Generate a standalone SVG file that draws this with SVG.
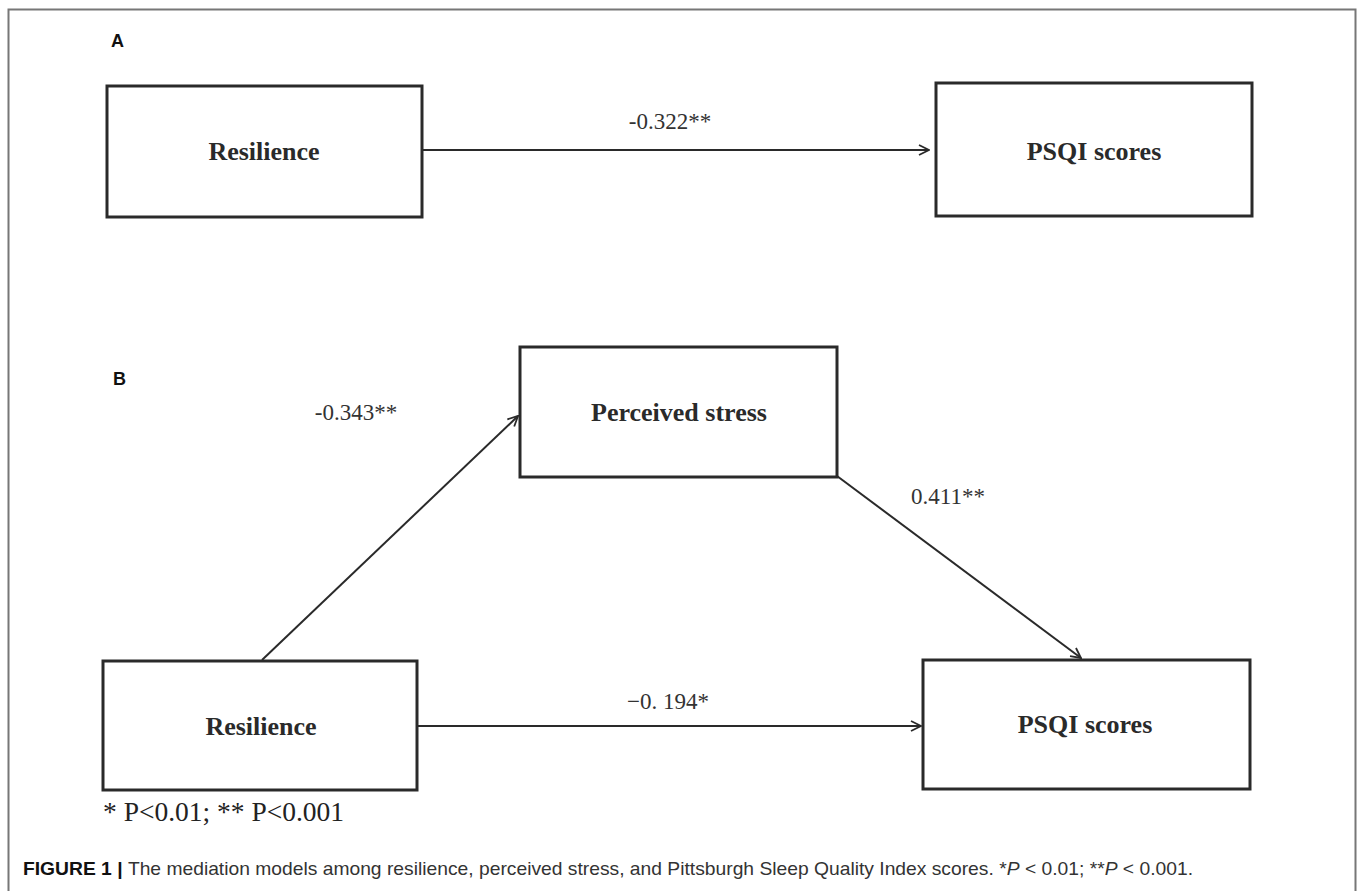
<svg xmlns="http://www.w3.org/2000/svg" width="1358" height="891" viewBox="0 0 1358 891">
<style>
.box{fill:#fff;stroke:#2a2a2a;stroke-width:3}
.lbl{font-family:"Liberation Serif",serif;font-weight:bold;font-size:26px;fill:#2a2a2a;text-anchor:middle}
.coef{font-family:"Liberation Serif",serif;font-size:23px;fill:#333;text-anchor:middle}
.edge{stroke:#2a2a2a;stroke-width:2;fill:none}
.panel{font-family:"Liberation Sans",sans-serif;font-weight:bold;font-size:18px;fill:#111}
</style>
<defs>
<marker id="arr" viewBox="0 0 12 12" refX="11" refY="6" markerWidth="12" markerHeight="12" markerUnits="userSpaceOnUse" orient="auto">
<path d="M1,1 L11,6 L1,11" fill="none" stroke="#2a2a2a" stroke-width="1.8"/>
</marker>
</defs>
<rect width="1358" height="891" fill="#fff"/>
<path d="M8.5,900 V9.5 H1355.5 V900" fill="none" stroke="#777" stroke-width="2"/>
<text class="panel" x="111" y="47">A</text>
<text class="panel" x="113" y="385">B</text>
<g id="a-resilience"><rect class="box" x="107" y="86" width="315" height="131"/><text class="lbl" x="264" y="160">Resilience</text></g>
<g id="a-psqi"><rect class="box" x="936" y="83" width="316" height="133"/><text class="lbl" x="1094" y="160">PSQI scores</text></g>
<g id="b-stress"><rect class="box" x="520" y="347" width="317" height="130"/><text class="lbl" x="679" y="421">Perceived stress</text></g>
<g id="b-resilience"><rect class="box" x="103" y="661" width="314" height="129"/><text class="lbl" x="261" y="735">Resilience</text></g>
<g id="b-psqi"><rect class="box" x="923" y="660" width="327" height="129"/><text class="lbl" x="1085" y="733">PSQI scores</text></g>
<g id="connectors">
<line class="edge" x1="423" y1="150" x2="929" y2="150" marker-end="url(#arr)"/>
<line class="edge" x1="262" y1="660" x2="518" y2="416" marker-end="url(#arr)"/>
<line class="edge" x1="837" y1="476" x2="1081" y2="658" marker-end="url(#arr)"/>
<line class="edge" x1="418" y1="726" x2="921" y2="726" marker-end="url(#arr)"/>
<text class="coef" x="670" y="129">-0.322**</text>
<text class="coef" x="356" y="420">-0.343**</text>
<text class="coef" x="948" y="504">0.411**</text>
<text class="coef" x="668" y="709">−0. 194*</text>
</g>
<text x="103" y="821" font-family="Liberation Serif,serif" font-size="27.5" fill="#222">* P&lt;0.01; ** P&lt;0.001</text>
<text x="23" y="875" font-family="Liberation Sans,sans-serif" font-size="19" fill="#333" textLength="1170" lengthAdjust="spacingAndGlyphs"><tspan font-weight="bold" fill="#111">FIGURE 1 | </tspan>The mediation models among resilience, perceived stress, and Pittsburgh Sleep Quality Index scores. *<tspan font-style="italic">P</tspan> &lt; 0.01; **<tspan font-style="italic">P</tspan> &lt; 0.001.</text>
</svg>
